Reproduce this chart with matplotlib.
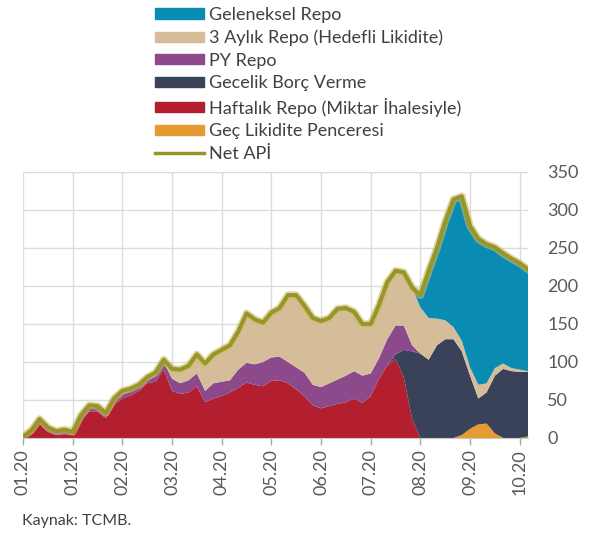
import numpy as np
import matplotlib.pyplot as plt
from matplotlib.patches import Patch
from matplotlib.lines import Line2D

plt.rcParams['font.family'] = ['Lato', 'DejaVu Sans']

# weekly-ish readings, billion TL (stack order bottom -> top)
gec = [0]*53 + [4, 12, 18, 19, 6, 0, 0, 0, 2]
haftalik = [1, 5, 20, 8, 4, 5, 4, 22, 35, 35,
            26, 44, 52, 56, 62, 72, 74, 90, 62, 58,
            60, 68, 47, 52, 55, 60, 66, 73, 70, 68,
            75, 76, 72, 64, 55, 43, 39, 42, 45, 47,
            52, 46, 55, 78, 95, 104, 80, 25] + [0]*14
gecelik = [0]*45 + [6, 36, 89, 111, 103, 122, 130, 130, 110, 70,
                    34, 41, 76, 91, 88, 87, 85]
py_repo = [1, 3, 3, 4, 4, 5, 3, 6, 5, 5,
           4, 5, 6, 6, 6, 5, 8, 10, 16, 14,
           16, 17, 15, 20, 19, 16, 24, 26, 27, 32,
           31, 31, 28, 29, 31, 27, 28, 30, 32, 35,
           36, 36, 30, 27, 35, 38, 32, 8] + [0]*14
uc_aylik = [0, 2, 2, 2, 1, 1, 1, 2, 3, 2,
            3, 3, 4, 3, 2, 3, 4, 3, 13, 18,
            19, 25, 36, 38, 42, 46, 50, 65, 59, 52,
            59, 64, 88, 95, 88, 88, 87, 86, 93, 89,
            78, 68, 65, 70, 75, 72, 70, 76, 61, 55,
            35, 25, 16, 14, 11, 18, 12, 10, 7, 4,
            3, 1]
geleneksel = [0]*48 + [16, 62, 93, 130, 168, 190, 186, 192, 183, 159,
                       145, 144, 140, 134]
net_api = [2, 10, 25, 14, 9, 11, 8, 30, 43, 42,
           33, 52, 62, 65, 70, 80, 86, 103, 91, 90,
           95, 110, 98, 110, 116, 122, 140, 164, 156, 152,
           165, 171, 188, 188, 174, 158, 154, 158, 170, 171,
           166, 150, 150, 175, 205, 220, 218, 198, 188, 220,
           250, 285, 314, 318, 279, 262, 255, 251, 243, 236,
           230, 222]

tick_labels = ["01.20", "01.20", "02.20", "03.20", "04.20", "05.20",
               "06.20", "07.20", "08.20", "09.20", "10.20"]

names = ["Geç Likidite Penceresi", "Haftalık Repo (Miktar İhalesiyle)",
         "Gecelik Borç Verme", "PY Repo", "3 Aylık Repo (Hedefli Likidite)",
         "Geleneksel Repo"]
colors = ["#e59b2f", "#b31f2f", "#3a4259", "#8c4a8d", "#d6bd9a", "#0a8cb2"]
line_col = "#9a952b"

fig = plt.figure(figsize=(5.92, 5.38), dpi=100)
ax = fig.add_axes([23/592, 100/538, 505/592, 266/538])

x = np.arange(len(net_api))
ax.stackplot(x, gec, haftalik, gecelik, py_repo, uc_aylik, geleneksel,
             colors=colors, linewidth=0)
ax.plot(x, net_api, color="#c9c266", lw=5.5, alpha=0.6, solid_joinstyle="round")
ax.plot(x, net_api, color=line_col, lw=3, solid_joinstyle="round")

ax.set_xlim(0, 61)
ax.set_ylim(0, 350)
ax.set_xticks(np.arange(0, 61, 6))
ax.set_xticklabels(tick_labels, rotation=90)
ax.set_yticks(np.arange(0, 351, 50))
ax.yaxis.tick_right()
ax.tick_params(axis="y", length=0, pad=14, labelsize=13, labelcolor="#595959")
ax.tick_params(axis="x", length=5, width=1, color="#a6a6a6", pad=3,
               labelsize=13, labelcolor="#595959")
ax.grid(True, color="#dcdcdc", lw=1)
ax.set_axisbelow(True)
for side in ["left", "right", "top"]:
    ax.spines[side].set_visible(False)
ax.spines["bottom"].set_color("#c8c8c8")

handles = [Patch(color=c) for c in colors[::-1]] + [Line2D([], [], color=line_col, lw=2.5)]
labels = names[::-1] + ["Net APİ"]
fig.legend(handles, labels, loc="upper left", bbox_to_anchor=(155/592, 1 - 7/538),
           frameon=False, borderpad=0, borderaxespad=0, handlelength=2.7,
           handleheight=0.5, handletextpad=0.3, labelspacing=0.36, fontsize=13,
           labelcolor="#404040")

fig.text(22/592, 1 - 521/538, "Kaynak: TCMB.", va="center", fontsize=11.5, color="#404040")

fig.savefig("out.png", dpi=100)
